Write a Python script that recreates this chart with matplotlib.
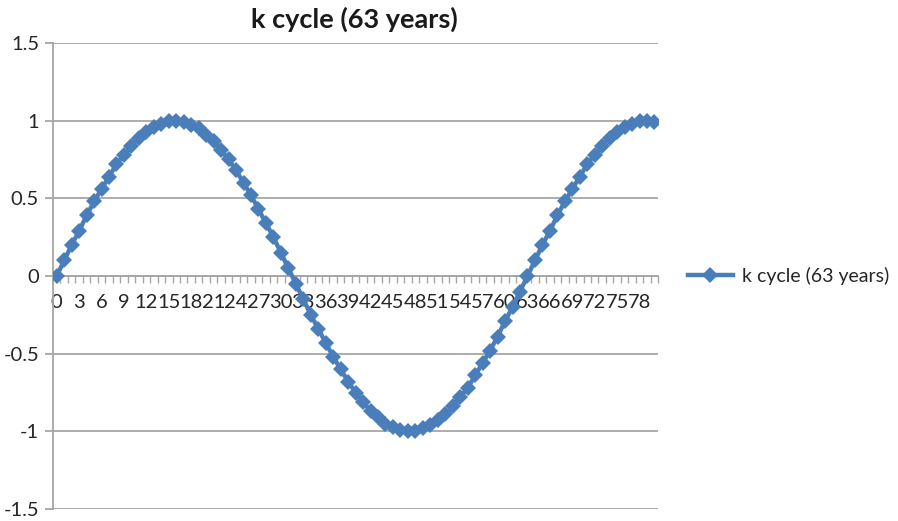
import numpy as np
import matplotlib.pyplot as plt
from matplotlib.ticker import FixedLocator

plt.rcParams['font.family'] = ['Lato', 'DejaVu Sans']

# data
years = list(range(81))
k_cycle = [
    0.00, 0.10, 0.20, 0.29, 0.39, 0.48, 0.56, 0.64, 0.72, 0.78,
    0.84, 0.89, 0.93, 0.96, 0.98, 1.00, 1.00, 0.99, 0.97, 0.95,
    0.91, 0.87, 0.81, 0.75, 0.68, 0.60, 0.52, 0.43, 0.34, 0.25,
    0.15, 0.05, -0.05, -0.15, -0.25, -0.34, -0.43, -0.52, -0.60, -0.68,
    -0.75, -0.81, -0.87, -0.91, -0.95, -0.97, -0.99, -1.00, -1.00, -0.98,
    -0.96, -0.93, -0.89, -0.84, -0.78, -0.72, -0.64, -0.56, -0.48, -0.39,
    -0.29, -0.20, -0.10, 0.00, 0.10, 0.20, 0.29, 0.39, 0.48, 0.56,
    0.64, 0.72, 0.78, 0.84, 0.89, 0.93, 0.96, 0.98, 1.00, 1.00, 0.99,
]
series_name = 'k cycle (63 years)'
y_ticks = [-1.5, -1, -0.5, 0, 0.5, 1, 1.5]
y_labels = ['-1.5', '-1', '-0.5', '0', '0.5', '1', '1.5']
label_step = 3

blue = '#4A7EBB'
grey = '#A6A6A6'

fig = plt.figure(figsize=(8.98, 5.21), dpi=100)
ax = fig.add_axes([0.059, 0.023, 0.674, 0.8945])

ax.plot(years, k_cycle, color=blue, lw=3.2, marker='D', ms=8.5,
        markeredgewidth=0, label=series_name, zorder=3)

ax.set_xlim(-0.5, len(years) - 0.5)
ax.set_ylim(-1.5, 1.5)
ax.yaxis.set_major_locator(FixedLocator(y_ticks))
ax.set_yticklabels(y_labels)
ax.yaxis.grid(True, color=grey, lw=1.3)
ax.set_axisbelow(True)

# category axis crosses at zero
ax.spines['bottom'].set_position(('data', 0))
for s in ['top', 'right']:
    ax.spines[s].set_visible(False)
for s in ['bottom', 'left']:
    ax.spines[s].set_color(grey)
    ax.spines[s].set_linewidth(1.3)

ax.xaxis.set_major_locator(FixedLocator(years[::label_step]))
ax.set_xticklabels([str(y) for y in years[::label_step]])
ax.xaxis.set_minor_locator(FixedLocator(np.arange(-0.5, len(years), 1)))
ax.tick_params(axis='x', which='major', length=0, pad=13, labelsize=14.5, colors='#262626')
ax.tick_params(axis='x', which='minor', length=5, width=1, color=grey, direction='out')
ax.tick_params(axis='y', length=6, width=1.3, color=grey, pad=4, labelsize=14.5,
               labelcolor='#262626')

fig.text(0.395, 0.962, series_name, ha='center', va='center',
         fontsize=19.5, fontweight='bold', color='#1a1a1a')

ax.legend(loc='center left', bbox_to_anchor=(1.02, 0.5), frameon=False,
          fontsize=14, handlelength=2.3, handletextpad=0.5,
          labelcolor='#262626')

fig.savefig('out.png', dpi=100)
